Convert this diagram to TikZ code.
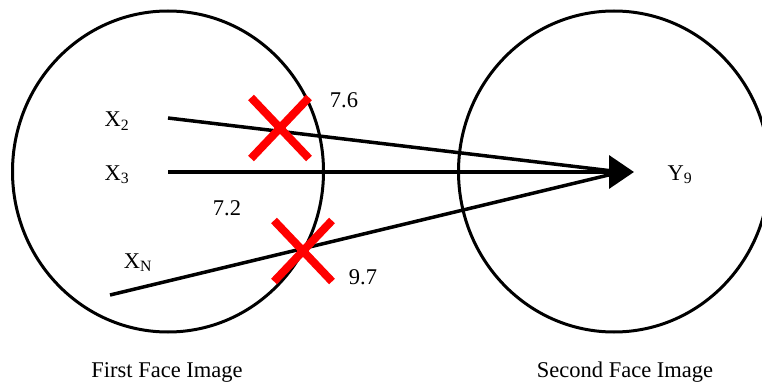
\documentclass[tikz,border=0pt]{standalone}
\usepackage{fontspec}
\setmainfont{Liberation Serif}
\usetikzlibrary{arrows.meta,shapes.geometric,shapes.misc}

\begin{document}
\begin{tikzpicture}[
  x=1pt,y=-1pt,
  font=\fontsize{22.5}{27}\selectfont,
  face/.style={ellipse,draw=black,line width=3pt,inner sep=0pt,
               minimum width=311pt,minimum height=321pt},
  lbl/.style={anchor=base,inner sep=0pt},
  link/.style={line width=3.5pt,black},
  arr/.style={link,-{Triangle[length=25pt,width=33pt]}},
  rej/.style={cross out,draw=red,line width=8pt,inner sep=0pt,
              minimum width=50pt,minimum height=53pt},
]
\useasboundingbox (0,0) rectangle (762,382);

% ---- the two face images ----
\node[face] (first) at (168,171.5) {};
\node[face] (second) at (614,171.5) {};

% ---- feature labels ----
\node[lbl] (x2) at (117,127) {X\textsubscript{2}};
\node[lbl] (x3) at (117,180) {X\textsubscript{3}};
\node[lbl] (xn) at (138,268) {X\textsubscript{N}};
\node[lbl] (y9) at (680,180) {Y\textsubscript{9}};

% ---- distances ----
\node[lbl] (d72) at (227,215) {7.2};
\node[lbl] (d76) at (344,108) {7.6};
\node[lbl] (d97) at (363,284) {9.7};

% ---- captions ----
\node[lbl] (cap1) at (167,377) {First Face Image};
\node[lbl] (cap2) at (625,377) {Second Face Image};

% ---- matching lines ----
\coordinate (s2) at (168,118);
\coordinate (s3) at (168,172);
\coordinate (sn) at (110,295);
\coordinate (tip) at (634,172);
\coordinate (join) at (621,172);

\draw[link] (s2) -- (join);
\draw[link] (sn) -- (join);
\draw[arr] (s3) -- (tip);

% ---- rejected matches ----
\node[rej] (rej1) at (280,128) {};
\node[rej] (rej2) at (303,251) {};
\end{tikzpicture}
\end{document}
